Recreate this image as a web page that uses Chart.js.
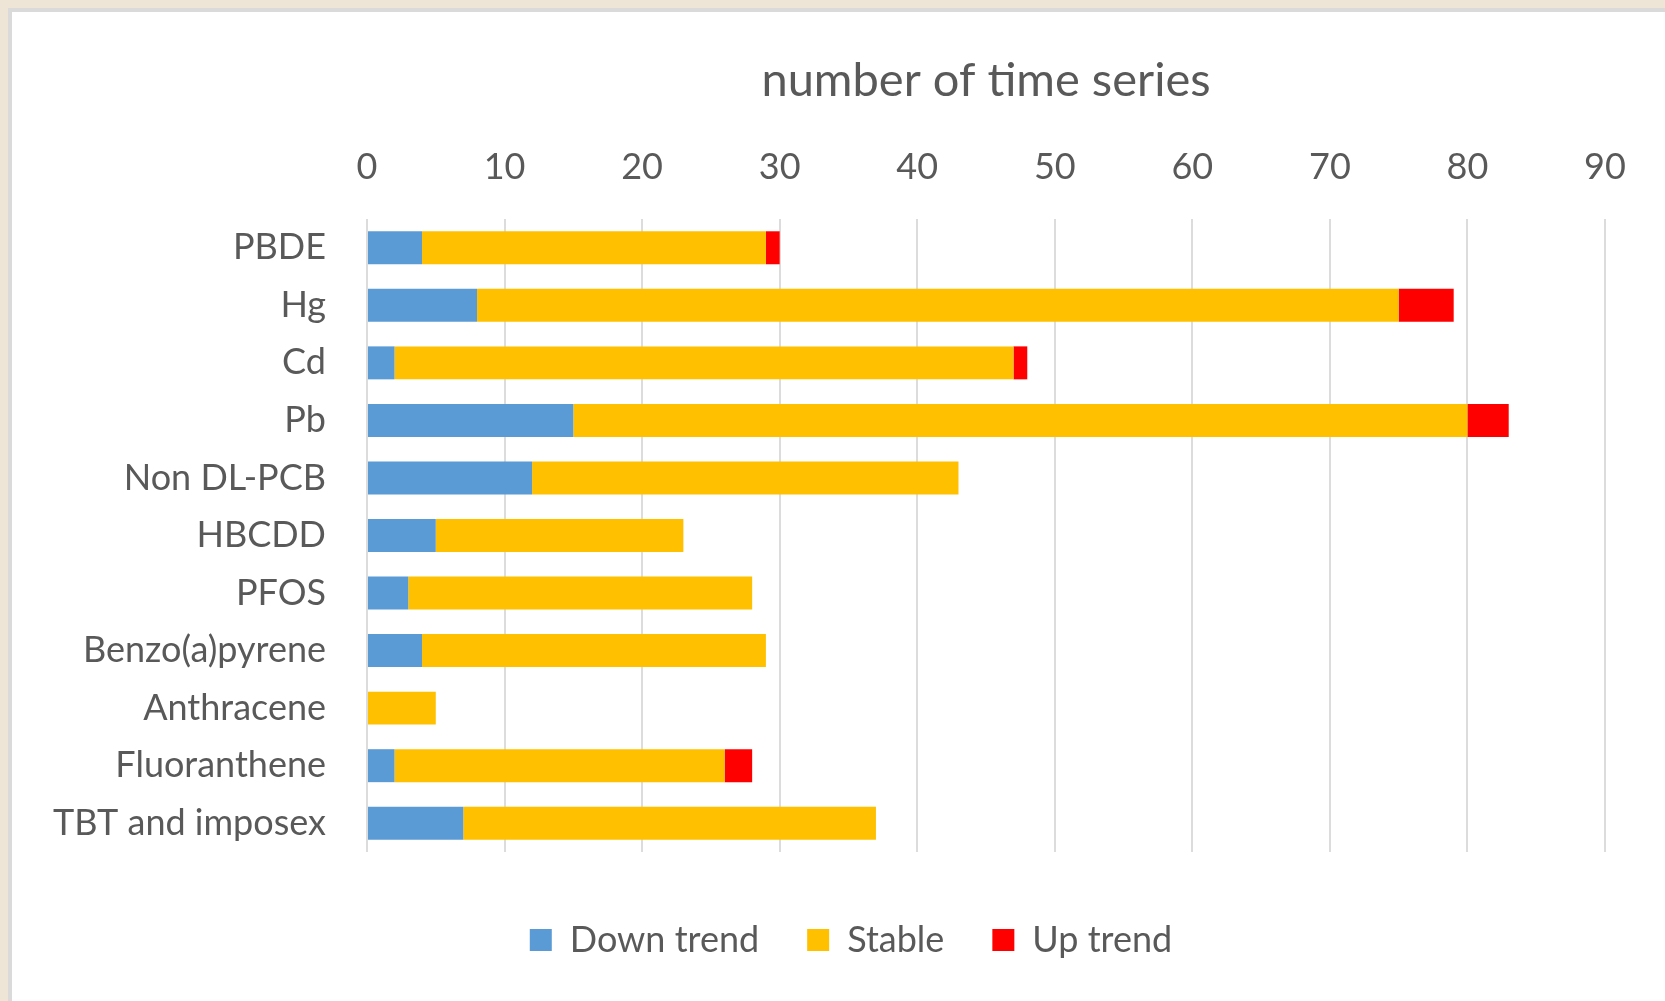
<!DOCTYPE html>
<html>
<head>
<meta charset="utf-8">
<title>number of time series</title>
<script src="https://cdn.jsdelivr.net/npm/chart.js@4"></script>
<style>
    html, body {
        margin: 0;
        padding: 0;
        overflow: hidden;
        background: #eee5d6;
    }
    .panel {
        position: absolute;
        left: 8px;
        top: 8px;
        right: 0;
        bottom: 0;
        background: #ffffff;
        border-top: 4px solid #dadada;
        border-left: 4px solid #dadada;
    }
    .chart-box {
        position: absolute;
        left: 0;
        top: 0;
        width: 1665px;
        height: 1001px;
    }
</style>
</head>
<body>
<div class="panel"></div>
<div class="chart-box"><canvas id="trends"></canvas></div>
<script>
// substances, top to bottom
const categories = [
    'PBDE',
    'Hg',
    'Cd',
    'Pb',
    'Non DL-PCB',
    'HBCDD',
    'PFOS',
    'Benzo(a)pyrene',
    'Anthracene',
    'Fluoranthene',
    'TBT and imposex'
];

// number of time series per trend class
const downTrend = [4, 8, 2, 15, 12, 5, 3, 4, 0, 2, 7];
const stable = [25, 67, 45, 65, 31, 18, 25, 25, 5, 24, 30];
const upTrend = [1, 4, 1, 3, 0, 0, 0, 0, 0, 2, 0];

const seriesNames = ['Down trend', 'Stable', 'Up trend'];
const axisTitle = 'number of time series';
const axisMin = 0;
const axisMax = 90;
const axisStep = 10;

const textColor = '#595959';
const fontFamily = 'Lato, "Open Sans", sans-serif';

let config = {
    type: 'bar',
    data: {
        labels: categories,
        datasets: [
            {
                label: seriesNames[0],
                data: downTrend,
                backgroundColor: '#5b9bd5'
            },
            {
                label: seriesNames[1],
                data: stable,
                backgroundColor: '#ffc000'
            },
            {
                label: seriesNames[2],
                data: upTrend,
                backgroundColor: '#ff0000'
            }
        ]
    },
    options: {
        indexAxis: 'y',
        responsive: true,
        maintainAspectRatio: false,
        animation: false,
        datasets: {
            bar: {
                categoryPercentage: 1,
                barPercentage: 0.573,
                borderWidth: 0
            }
        },
        layout: {
            padding: { left: 37, right: 0, top: 0, bottom: 33 }
        },
        scales: {
            x: {
                position: 'top',
                stacked: true,
                min: axisMin,
                max: axisMax,
                afterFit: (scale) => { scale.height = 219; },
                ticks: {
                    stepSize: axisStep,
                    padding: 30,
                    color: textColor,
                    font: { family: fontFamily, size: 36 }
                },
                grid: {
                    color: '#dcdcdc',
                    lineWidth: 2,
                    drawTicks: false
                },
                border: { display: false },
                title: {
                    display: true,
                    text: axisTitle,
                    color: textColor,
                    padding: { top: 53, bottom: 0 },
                    font: { family: fontFamily, size: 47 }
                }
            },
            y: {
                stacked: true,
                afterFit: (scale) => { scale.width = 330; },
                ticks: {
                    autoSkip: false,
                    padding: 41,
                    color: textColor,
                    font: { family: fontFamily, size: 36 }
                },
                grid: { display: false, drawTicks: false },
                border: { display: false }
            },
            // empty right-hand axis: white margin right of the plot
            yRight: {
                axis: 'y',
                type: 'category',
                position: 'right',
                afterFit: (scale) => { scale.width = 60; },
                ticks: { display: false },
                grid: { display: false, drawTicks: false },
                border: { display: false }
            }
        },
        plugins: {
            legend: {
                position: 'bottom',
                // empty title keeps a gap between the plot and the keys
                title: {
                    display: true,
                    text: '',
                    padding: { top: 10, bottom: 0 },
                    font: { family: fontFamily, size: 10 }
                },
                labels: {
                    boxWidth: 22,
                    boxHeight: 22,
                    padding: 48,
                    color: textColor,
                    font: { family: fontFamily, size: 36 }
                }
            },
            tooltip: { enabled: false }
        }
    }
};

const ctx = document.getElementById('trends').getContext('2d');
const chart = new Chart(ctx, config);
</script>
</body>
</html>
